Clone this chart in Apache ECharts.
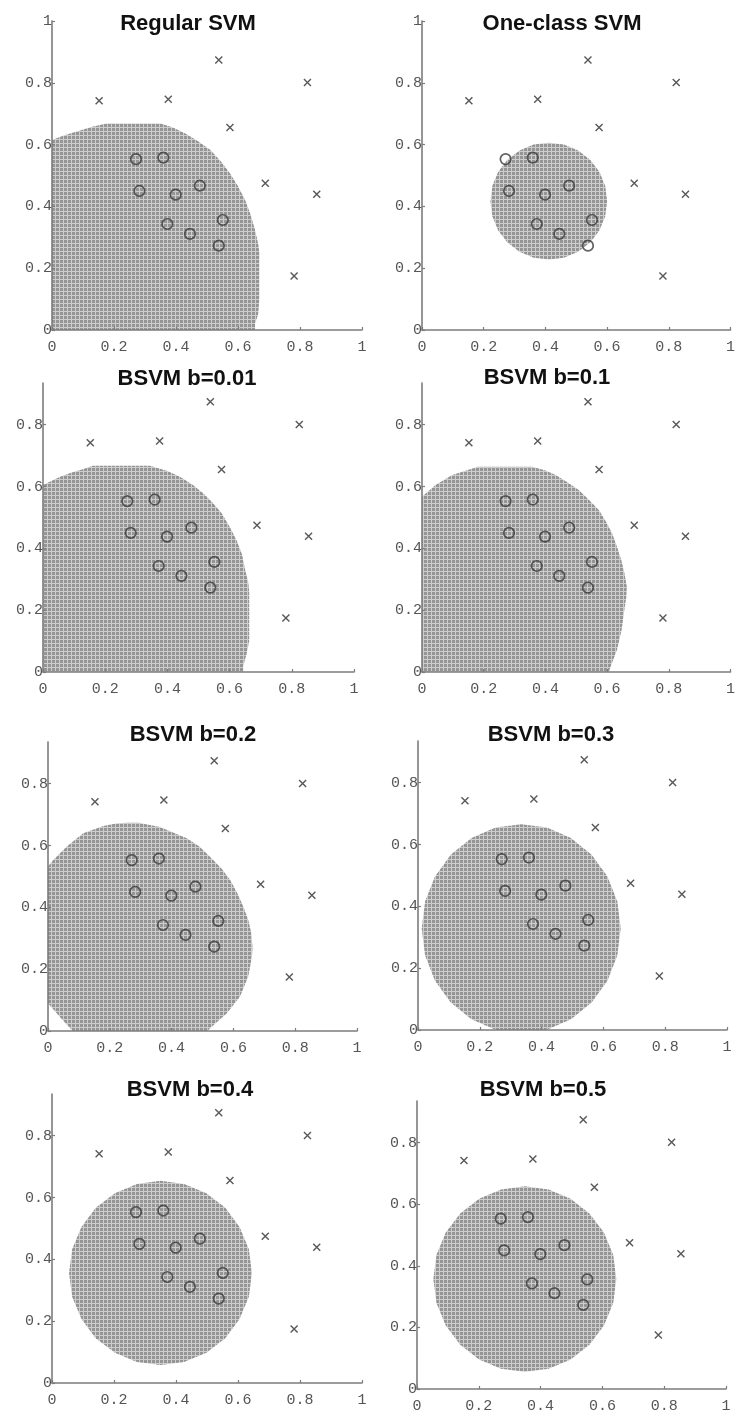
<!DOCTYPE html>
<html>
<head>
<meta charset="utf-8">
<script src="https://cdn.jsdelivr.net/npm/echarts/dist/echarts.min.js"></script>
<style>
  html, body { margin: 0; padding: 0; background: #ffffff; }
  #chart { width: 738px; height: 1414px; }
</style>
</head>
<body>
<div id="chart"></div>
<script>
// Training points shared by every panel
const targetX = [0.271, 0.359, 0.282, 0.399, 0.477, 0.372, 0.445, 0.551, 0.538];
const targetY = [0.553, 0.558, 0.450, 0.438, 0.467, 0.343, 0.311, 0.356, 0.273];
const outlierX = [0.152, 0.375, 0.538, 0.824, 0.574, 0.688, 0.854, 0.781];
const outlierY = [0.742, 0.747, 0.874, 0.801, 0.655, 0.475, 0.439, 0.175];

// Panel titles
const panelTitles = ['Regular SVM', 'One-class SVM', 'BSVM b=0.01', 'BSVM b=0.1',
                     'BSVM b=0.2', 'BSVM b=0.3', 'BSVM b=0.4', 'BSVM b=0.5'];

// Tick values and labels
const xTickValues = [0, 0.2, 0.4, 0.6, 0.8, 1];
const xTickLabels = ['0', '0.2', '0.4', '0.6', '0.8', '1'];
const yTickValuesFull = [0, 0.2, 0.4, 0.6, 0.8, 1];
const yTickValuesShort = [0, 0.2, 0.4, 0.6, 0.8];
const yTickLabels = ['0', '0.2', '0.4', '0.6', '0.8', '1'];

// Accepted regions (boundary vertices, data units)
const regionRegular = [[0,0],[0,0.615],[0.04,0.63],[0.08,0.642],[0.13,0.658],[0.176,0.668],[0.35,0.668],[0.39,0.655],[0.43,0.636],[0.47,0.612],[0.51,0.583],[0.545,0.545],[0.574,0.507],[0.60,0.465],[0.623,0.421],[0.64,0.375],[0.655,0.324],[0.665,0.28],[0.669,0.248],[0.669,0.10],[0.665,0.05],[0.655,0.02],[0.655,0]];
const regionOneClass = [[0.600,0.417],[0.594,0.466],[0.575,0.512],[0.545,0.551],[0.506,0.581],[0.460,0.600],[0.411,0.606],[0.362,0.600],[0.316,0.581],[0.277,0.551],[0.247,0.512],[0.228,0.466],[0.222,0.417],[0.228,0.368],[0.247,0.322],[0.277,0.283],[0.316,0.253],[0.362,0.234],[0.411,0.228],[0.460,0.234],[0.506,0.253],[0.545,0.283],[0.575,0.322],[0.594,0.368]];
const regionB001 = [[0,0],[0,0.605],[0.055,0.632],[0.09,0.645],[0.13,0.657],[0.16,0.667],[0.344,0.667],[0.40,0.65],[0.44,0.632],[0.48,0.607],[0.515,0.578],[0.545,0.548],[0.575,0.513],[0.60,0.47],[0.622,0.427],[0.64,0.38],[0.65,0.33],[0.66,0.29],[0.663,0.26],[0.663,0.10],[0.655,0.06],[0.644,0.02],[0.644,0]];
const regionB01 = [[0,0],[0,0.567],[0.044,0.605],[0.098,0.637],[0.151,0.654],[0.181,0.664],[0.357,0.664],[0.40,0.652],[0.433,0.637],[0.47,0.615],[0.508,0.589],[0.54,0.558],[0.573,0.524],[0.596,0.487],[0.616,0.449],[0.632,0.405],[0.646,0.362],[0.656,0.32],[0.664,0.276],[0.662,0.24],[0.656,0.201],[0.647,0.136],[0.632,0.071],[0.618,0.035],[0.605,0]];
const regionB02 = [[0.255,0.674],[0.293,0.674],[0.362,0.660],[0.449,0.624],[0.49,0.597],[0.524,0.564],[0.56,0.527],[0.589,0.489],[0.612,0.447],[0.632,0.402],[0.648,0.36],[0.658,0.316],[0.662,0.27],[0.660,0.24],[0.648,0.176],[0.621,0.111],[0.578,0.057],[0.535,0.019],[0.515,0],[0.08,0],[0.045,0.038],[0.017,0.07],[0,0.09],[0,0.532],[0.017,0.553],[0.06,0.596],[0.114,0.64],[0.179,0.663],[0.22,0.671]];
const regionB03 = [[0.656,0.328],[0.645,0.416],[0.613,0.497],[0.562,0.567],[0.495,0.621],[0.417,0.655],[0.334,0.666],[0.251,0.655],[0.173,0.621],[0.106,0.567],[0.055,0.497],[0.023,0.416],[0.012,0.328],[0.023,0.241],[0.055,0.159],[0.106,0.089],[0.173,0.035],[0.251,0.001],[0.334,-0.010],[0.417,0.001],[0.495,0.035],[0.562,0.089],[0.613,0.159],[0.645,0.241]];
const regionB04 = [[0.645,0.356],[0.635,0.433],[0.605,0.505],[0.559,0.567],[0.498,0.614],[0.426,0.644],[0.350,0.654],[0.274,0.644],[0.203,0.614],[0.141,0.567],[0.095,0.505],[0.065,0.433],[0.055,0.356],[0.065,0.279],[0.095,0.207],[0.141,0.145],[0.203,0.098],[0.274,0.068],[0.350,0.058],[0.426,0.068],[0.498,0.098],[0.559,0.145],[0.605,0.207],[0.635,0.279]];
const regionB05 = [[0.645,0.357],[0.635,0.435],[0.605,0.508],[0.558,0.570],[0.497,0.618],[0.426,0.648],[0.349,0.658],[0.272,0.648],[0.201,0.618],[0.140,0.570],[0.093,0.508],[0.063,0.435],[0.053,0.357],[0.063,0.279],[0.093,0.206],[0.140,0.144],[0.201,0.096],[0.272,0.066],[0.349,0.056],[0.426,0.066],[0.497,0.096],[0.558,0.144],[0.605,0.206],[0.635,0.279]];

const regions = [regionRegular, regionOneClass, regionB001, regionB01, regionB02, regionB03, regionB04, regionB05];

// Panel frames in pixels: plot left, bottom (y = 0), width, height, y-axis max
const panels = [
  { left: 52,  bottom: 330,  width: 310, height: 309, yMax: 1,     titleX: 188, titleY: 24 },
  { left: 422, bottom: 330,  width: 309, height: 309, yMax: 1,     titleX: 562, titleY: 24 },
  { left: 43,  bottom: 672,  width: 311, height: 289, yMax: 0.935, titleX: 187, titleY: 379 },
  { left: 422, bottom: 672,  width: 309, height: 289, yMax: 0.935, titleX: 547, titleY: 378 },
  { left: 48,  bottom: 1031, width: 309, height: 289, yMax: 0.935, titleX: 193, titleY: 735 },
  { left: 418, bottom: 1030, width: 309, height: 289, yMax: 0.935, titleX: 551, titleY: 735 },
  { left: 52,  bottom: 1383, width: 310, height: 289, yMax: 0.935, titleX: 190, titleY: 1090 },
  { left: 417, bottom: 1390, width: 309, height: 289, yMax: 0.935, titleX: 543, titleY: 1090 }
];

// Gray fill crossed by thin light grid lines, used for the shaded regions
const tile = document.createElement('canvas');
tile.width = 4; tile.height = 4;
const tctx = tile.getContext('2d');
tctx.fillStyle = '#cdcdcd';
tctx.fillRect(0, 0, 4, 4);
tctx.fillStyle = '#959595';
tctx.fillRect(0, 0, 3, 3);
const shadeFill = { image: tile, repeat: 'repeat' };

const axisGray = '#7c7c7c';
const labelFont = { fontFamily: 'Liberation Mono', fontSize: 15, color: '#555555' };

const grids = [], xAxes = [], yAxes = [], series = [], graphics = [];

panels.forEach((p, i) => {
  const yTicks = p.yMax >= 1 ? yTickValuesFull : yTickValuesShort;
  grids.push({ left: p.left, top: p.bottom - p.height, width: p.width, height: p.height, containLabel: false });

  xAxes.push({
    gridIndex: i, type: 'value', min: 0, max: 1, interval: 0.2, z: 5,
    axisLine: { show: true, onZero: false, lineStyle: { color: axisGray, width: 1.6 } },
    axisTick: { show: true, inside: true, length: 3, customValues: xTickValues,
                lineStyle: { color: axisGray, width: 1.2 } },
    splitLine: { show: false },
    axisLabel: Object.assign({
      margin: 10, customValues: xTickValues,
      formatter: v => xTickLabels[xTickValues.findIndex(t => Math.abs(t - v) < 1e-6)] || ''
    }, labelFont)
  });

  yAxes.push({
    gridIndex: i, type: 'value', min: 0, max: p.yMax, interval: 0.2, z: 5,
    axisLine: { show: true, onZero: false, lineStyle: { color: axisGray, width: 1.6 } },
    axisTick: { show: true, inside: true, length: 3, customValues: yTicks,
                lineStyle: { color: axisGray, width: 1.2 } },
    splitLine: { show: false },
    axisLabel: Object.assign({
      margin: 0, customValues: yTicks,
      formatter: v => yTickLabels[yTicks.findIndex(t => Math.abs(t - v) < 1e-6)] || ''
    }, labelFont)
  });

  const verts = regions[i];
  series.push({
    type: 'custom', xAxisIndex: i, yAxisIndex: i, z: 1, clip: true, silent: true,
    data: [[0, 0]],
    renderItem: (params, api) => ({
      type: 'polygon',
      shape: { points: verts.map(v => api.coord(v)) },
      style: { fill: shadeFill }
    })
  });

  series.push({
    type: 'scatter', xAxisIndex: i, yAxisIndex: i, z: 10, silent: true,
    symbol: 'circle', symbolSize: 10.5,
    itemStyle: { color: 'transparent', borderColor: '#3a3a3a', borderWidth: 1.7 },
    data: targetX.map((x, k) => [x, targetY[k]])
  });

  series.push({
    type: 'scatter', xAxisIndex: i, yAxisIndex: i, z: 10, silent: true,
    symbol: 'path://M0,0L10,10M0,10L10,0', symbolSize: 7,
    itemStyle: { color: 'transparent', borderColor: '#2e2e2e', borderWidth: 1.4 },
    data: outlierX.map((x, k) => [x, outlierY[k]])
  });

  graphics.push({
    type: 'text', x: p.titleX, y: p.titleY,
    style: {
      text: panelTitles[i], fill: '#111111',
      font: 'bold 22px "Liberation Sans", Arial, sans-serif',
      textAlign: 'center', textVerticalAlign: 'middle'
    }
  });
});

const chart = echarts.init(document.getElementById('chart'), null, { renderer: 'canvas' });
chart.setOption({
  animation: false,
  backgroundColor: '#ffffff',
  grid: grids,
  xAxis: xAxes,
  yAxis: yAxes,
  series: series,
  graphic: graphics
});
</script>
</body>
</html>
